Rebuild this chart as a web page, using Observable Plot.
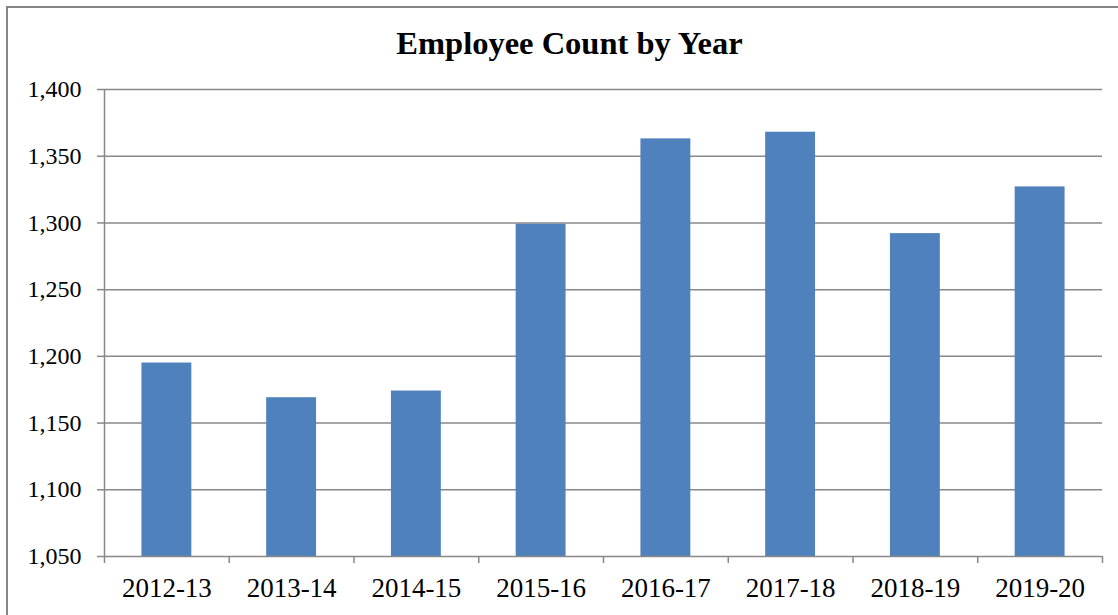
<!DOCTYPE html>
<html><head><meta charset="utf-8">
<script src="https://cdn.jsdelivr.net/npm/d3@7"></script>
<script src="https://cdn.jsdelivr.net/npm/@observablehq/plot@0.6"></script>
<style>
body{margin:0;background:#fff;overflow:hidden}
#wrap{position:relative;width:1118px;height:615px;overflow:hidden;background:#fff}
#frame{position:absolute;left:6px;top:6px;width:1300px;height:800px;border:2px solid #868686;box-sizing:border-box}
#title{position:absolute;left:0;width:1139px;top:27px;line-height:32px;text-align:center;font-family:"Liberation Serif","Times New Roman",serif;font-weight:bold;font-size:32.5px;color:#000}
#chart{position:absolute;left:0;top:0}
</style>
</head><body>
<div id="wrap"><div id="frame"></div><div id="chart"></div><div id="title">Employee Count by Year</div></div>
<script>
const categories = ["2012-13","2013-14","2014-15","2015-16","2016-17","2017-18","2018-19","2019-20"];
const counts = [1195,1169,1174,1299,1363,1368,1292,1327];
const yTicks = [1050,1100,1150,1200,1250,1300,1350,1400];

const data = categories.map((c,i)=>({category:c, index:i, count:counts[i]}));
const grid = "#888888";
const chart = Plot.plot({
  width:1118, height:615,
  marginLeft:104, marginRight:16, marginTop:89, marginBottom:59,
  x:{domain:[0,categories.length], label:null},
  y:{domain:[1050,1400], label:null},
  style:{fontFamily:"'Liberation Serif','Times New Roman',serif", color:"#000", background:"transparent", overflow:"visible"},
  marks:[
    Plot.ruleY(yTicks.slice(1), {stroke:grid, strokeWidth:1.5}),
    Plot.rectY(data, {x1:d=>d.index+0.3, x2:d=>d.index+0.7, y1:1050, y2:"count", fill:"#4F81BD"}),
    Plot.ruleY([1050], {stroke:grid, strokeWidth:1.5}),
    Plot.ruleX([0], {stroke:grid, strokeWidth:1.5}),
    Plot.axisY({ticks:yTicks, tickSize:7, tickPadding:16, tickFormat:d3.format(","), fontSize:24, stroke:grid, strokeWidth:1.5}),
    Plot.axisX({ticks:d3.range(categories.length+1), tickSize:7, tickFormat:()=>"", stroke:grid, strokeWidth:1.5}),
    Plot.axisX({ticks:categories.map((c,i)=>i+0.5), tickSize:0, tickPadding:21, tickFormat:v=>categories[Math.floor(v)], fontSize:27})
  ]
});
document.getElementById("chart").appendChild(chart);
</script>
</body></html>
